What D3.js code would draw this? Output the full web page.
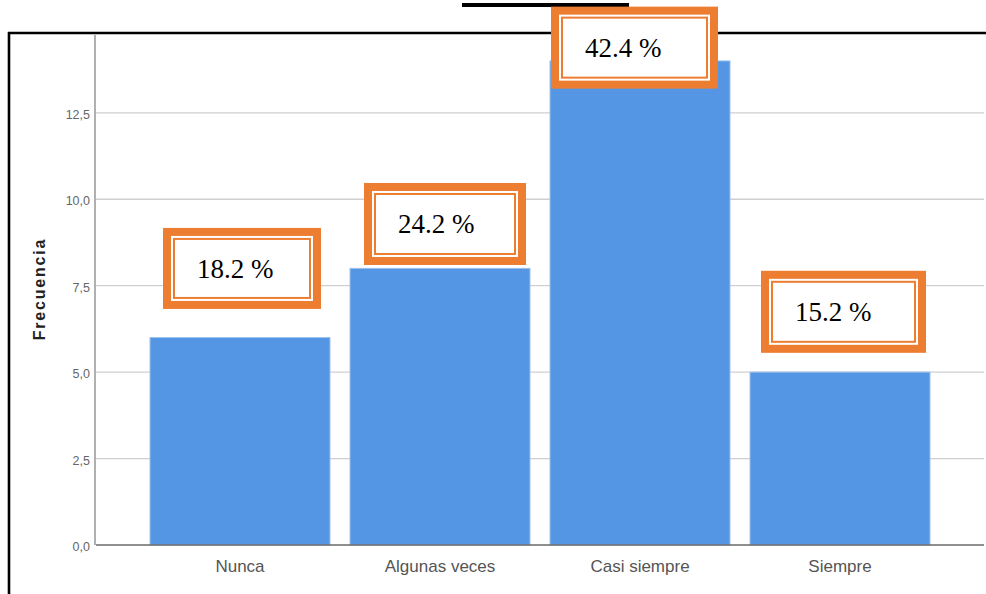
<!DOCTYPE html>
<html>
<head>
<meta charset="utf-8">
<script src="https://cdn.jsdelivr.net/npm/d3@7/dist/d3.min.js"></script>
<style>
  html, body { margin: 0; padding: 0; background: #fff; }
  svg { display: block; }
</style>
</head>
<body>
<svg id="chart" width="986" height="594"></svg>
<script>
// ---- data ----
const categories = ["Nunca", "Algunas veces", "Casi siempre", "Siempre"];
const frequencies = [6, 8, 14, 5];
const percentLabels = ["18.2 %", "24.2 %", "42.4 %", "15.2 %"];
const yTicks = [0, 2.5, 5, 7.5, 10, 12.5];
const yTitle = "Frecuencia";

// ---- layout (annotation boxes: offset from bar left, top in data units) ----
const boxLayout = [
  { dx: 13, top: 9.17, w: 158, h: 81 },
  { dx: 14, top: 10.47, w: 162, h: 82 },
  { dx: 1,  top: 15.57, w: 167, h: 82 },
  { dx: 11, top: 7.93, w: 165, h: 82 }
];

const svg = d3.select("#chart");
const orange = "#ED7D31";

const x = d3.scaleBand().domain(categories).range([140, 940]).paddingInner(0.1).paddingOuter(0.05);
const y = d3.scaleLinear().domain([0, 14.75]).range([545, 35]);

// gridlines
svg.append("g").selectAll("line").data(yTicks.filter(d => d > 0)).join("line")
  .attr("x1", 96).attr("x2", 984)
  .attr("y1", d => y(d)).attr("y2", d => y(d))
  .attr("stroke", "#cfcfcf").attr("stroke-width", 1.3);

// y axis line
svg.append("line").attr("x1", 95).attr("x2", 95).attr("y1", y.range()[1]).attr("y2", 545)
  .attr("stroke", "#b0b0b0").attr("stroke-width", 2);

// y axis ticks labels
const yAxis = d3.axisLeft(y).tickValues(yTicks).tickSize(0).tickPadding(6)
  .tickFormat(d => d3.format(".1f")(d).replace(".", ","));
const ga = svg.append("g").attr("transform", "translate(90,0)").call(yAxis);
ga.select(".domain").remove();
ga.selectAll("text").attr("font-family", "Liberation Sans, Arial, sans-serif")
  .attr("font-size", 12.5).attr("fill", "#666").attr("dy", "0.45em").attr("x", 0);

// bars
svg.append("g").selectAll("rect").data(categories).join("rect")
  .attr("x", d => x(d)).attr("width", x.bandwidth())
  .attr("y", (d, i) => y(frequencies[i]))
  .attr("height", (d, i) => 545 - y(frequencies[i]))
  .attr("fill", "#5596E4").attr("stroke", "#9cc1ef").attr("stroke-width", 1);

// baseline
svg.append("line").attr("x1", 96).attr("x2", 984).attr("y1", 545).attr("y2", 545)
  .attr("stroke", "#6a6a6a").attr("stroke-width", 1.5);

// x axis labels
const xAxis = d3.axisBottom(x).tickSize(0).tickPadding(0);
const gx = svg.append("g").attr("transform", "translate(0,545)").call(xAxis);
gx.select(".domain").remove();
gx.selectAll("text").attr("font-family", "Liberation Sans, Arial, sans-serif")
  .attr("font-size", 17).attr("fill", "#555").attr("y", 27).attr("dy", 0);

// y title
svg.append("text")
  .attr("transform", "translate(45,289) rotate(-90)")
  .attr("text-anchor", "middle")
  .attr("font-family", "Liberation Sans, Arial, sans-serif")
  .attr("font-weight", "bold").attr("font-size", 16).attr("letter-spacing", 1.8)
  .attr("fill", "#222").text(yTitle);

// frame
svg.append("line").attr("x1", 8).attr("x2", 986).attr("y1", 33).attr("y2", 33)
  .attr("stroke", "#000").attr("stroke-width", 2.6);
svg.append("line").attr("x1", 9).attr("x2", 9).attr("y1", 32).attr("y2", 594)
  .attr("stroke", "#000").attr("stroke-width", 2.6);
svg.append("rect").attr("x", 462).attr("y", 3).attr("width", 167).attr("height", 4).attr("fill", "#000");

// annotation boxes
const ann = svg.append("g").selectAll("g").data(categories).join("g")
  .attr("transform", (d, i) => `translate(${x(d) + boxLayout[i].dx},${y(boxLayout[i].top)})`);
ann.append("rect")
  .attr("x", 4).attr("y", 4)
  .attr("width", (d, i) => boxLayout[i].w - 8).attr("height", (d, i) => boxLayout[i].h - 8)
  .attr("fill", "#fff").attr("stroke", orange).attr("stroke-width", 8);
ann.append("rect")
  .attr("x", 11).attr("y", 11)
  .attr("width", (d, i) => boxLayout[i].w - 22).attr("height", (d, i) => boxLayout[i].h - 22)
  .attr("fill", "none").attr("stroke", orange).attr("stroke-width", 2);
ann.append("text")
  .attr("x", 34).attr("y", 50)
  .attr("font-family", "Liberation Serif, Times New Roman, serif")
  .attr("font-size", 27).attr("fill", "#000")
  .text((d, i) => percentLabels[i]);
</script>
</body>
</html>
